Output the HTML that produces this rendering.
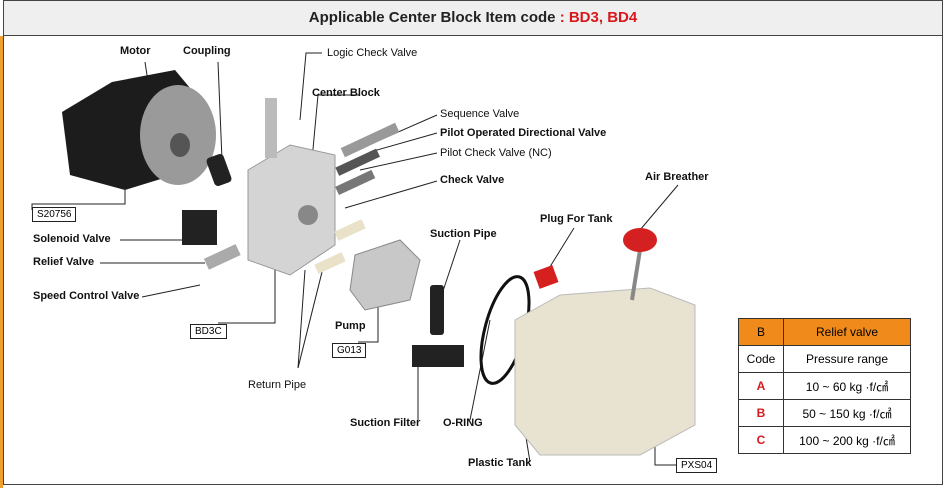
<!DOCTYPE html>
<html><head><meta charset="utf-8"><style>
body{margin:0;width:948px;height:488px;overflow:hidden;background:#fff;font-family:"Liberation Sans",sans-serif}
.hdr{position:absolute;left:3px;top:0;width:940px;height:36px;background:#efefef;border:1px solid #444;box-sizing:border-box;text-align:center;font:bold 15px/34px "Liberation Sans",sans-serif;color:#222}
.hdr span{color:#d9181e}
.frame{position:absolute;left:3px;top:35px;width:940px;height:450px;border:1px solid #444;box-sizing:border-box}
.l{position:absolute;font-size:11px;color:#111;white-space:nowrap}
.b{font-weight:bold}
.box{position:absolute;border:1px solid #222;font-size:10px;padding:0 4px;line-height:13px;background:#fff}
table{position:absolute;left:738px;top:318px;border-collapse:collapse;font-size:12px}
td{border:1px solid #333;text-align:center;height:26px;padding:0}
</style></head><body>
<div style="position:absolute;left:0;top:36px;width:3px;height:452px;background:#f0a030"></div>
<div class="hdr">Applicable Center Block Item code <span>: BD3, BD4</span></div>
<div class="frame"></div>
<svg width="948" height="488" style="position:absolute;left:0;top:0">
<g fill="none" stroke="#222" stroke-width="1">
<polyline points="145,62 150,95"/><polyline points="218,62 222,160"/>
<polyline points="322,53 306,53 300,120"/>
<polyline points="360,95 318,95 312,160"/>
<polyline points="437,115 380,140"/><polyline points="437,133 370,152"/>
<polyline points="437,153 360,170"/><polyline points="437,181 345,208"/>
<polyline points="120,240 190,240"/><polyline points="100,263 205,263"/>
<polyline points="142,297 200,285"/>
<polyline points="32,210 32,204 125,204 125,190"/>
<polyline points="218,323 275,323 275,270"/>
<polyline points="298,368 325,260"/><polyline points="298,368 305,270"/>
<polyline points="358,342 378,342 378,300"/>
<polyline points="460,240 440,300"/>
<polyline points="418,420 418,360"/><polyline points="470,420 490,320"/>
<polyline points="530,462 520,400"/>
<polyline points="574,228 548,270"/><polyline points="678,185 640,230"/>
<polyline points="676,465 655,465 655,415"/>
</g>
<path d="M62,112 L112,82 L175,70 L200,100 L190,170 L125,190 L70,175 Z" fill="#1c1c1c"/>
<ellipse cx="178" cy="135" rx="38" ry="50" fill="#9a9a9a"/>
<ellipse cx="180" cy="145" rx="10" ry="12" fill="#555"/>
<rect x="210" y="155" width="18" height="30" rx="4" fill="#222" transform="rotate(-20 219 170)"/>
<path d="M248,170 L290,145 L335,155 L335,245 L290,275 L248,260 Z" fill="#d4d4d4" stroke="#999"/>
<circle cx="308" cy="215" r="10" fill="#888"/>
<rect x="265" y="98" width="12" height="60" fill="#bbb"/>
<rect x="182" y="210" width="35" height="35" fill="#222"/>
<rect x="205" y="252" width="35" height="12" fill="#aaa" transform="rotate(-25 220 258)"/>
<rect x="340" y="135" width="60" height="10" fill="#999" transform="rotate(-25 370 140)"/>
<rect x="335" y="158" width="45" height="9" fill="#555" transform="rotate(-25 357 162)"/>
<rect x="335" y="178" width="40" height="9" fill="#777" transform="rotate(-25 355 182)"/>
<rect x="335" y="225" width="30" height="10" fill="#e9e2c8" transform="rotate(-25 350 230)"/>
<rect x="315" y="258" width="30" height="10" fill="#e9e2c8" transform="rotate(-25 330 263)"/>
<path d="M355,255 L400,240 L420,260 L410,300 L365,310 L350,290 Z" fill="#c8c8c8" stroke="#888"/>
<rect x="430" y="285" width="14" height="50" fill="#222" rx="3"/>
<rect x="412" y="345" width="52" height="22" fill="#222"/>
<ellipse cx="505" cy="330" rx="20" ry="55" fill="none" stroke="#111" stroke-width="3" transform="rotate(15 505 330)"/>
<path d="M515,320 L560,295 L650,288 L695,305 L695,425 L640,455 L540,455 L515,425 Z" fill="#e8e2d0" stroke="#bbb"/>
<rect x="536" y="268" width="20" height="18" fill="#d62020" transform="rotate(-20 546 277)"/>
<line x1="640" y1="250" x2="632" y2="300" stroke="#888" stroke-width="4"/>
<ellipse cx="640" cy="240" rx="17" ry="12" fill="#d42020"/>
</svg>
<div class="l b" style="left:120px;top:45px">Motor</div>
<div class="l b" style="left:183px;top:45px">Coupling</div>
<div class="l" style="left:327px;top:47px">Logic Check Valve</div>
<div class="l b" style="left:312px;top:87px">Center Block</div>
<div class="l" style="left:440px;top:108px">Sequence Valve</div>
<div class="l b" style="left:440px;top:127px">Pilot Operated Directional Valve</div>
<div class="l" style="left:440px;top:147px">Pilot Check Valve (NC)</div>
<div class="l b" style="left:440px;top:174px">Check Valve</div>
<div class="l b" style="left:645px;top:171px">Air Breather</div>
<div class="l b" style="left:540px;top:213px">Plug For Tank</div>
<div class="l b" style="left:430px;top:228px">Suction Pipe</div>
<div class="l b" style="left:33px;top:233px">Solenoid Valve</div>
<div class="l b" style="left:33px;top:256px">Relief Valve</div>
<div class="l b" style="left:33px;top:290px">Speed Control Valve</div>
<div class="l b" style="left:335px;top:320px">Pump</div>
<div class="l" style="left:248px;top:379px">Return Pipe</div>
<div class="l b" style="left:350px;top:417px">Suction Filter</div>
<div class="l b" style="left:443px;top:417px">O-RING</div>
<div class="l b" style="left:468px;top:457px">Plastic Tank</div>
<div class="box" style="left:32px;top:207px">S20756</div>
<div class="box" style="left:190px;top:324px">BD3C</div>
<div class="box" style="left:332px;top:343px">G013</div>
<div class="box" style="left:676px;top:458px">PXS04</div>
<table>
<tr style="background:#f08a1a"><td style="width:44px">B</td><td style="width:126px">Relief valve</td></tr>
<tr><td>Code</td><td>Pressure range</td></tr>
<tr><td style="color:#d9181e;font-weight:bold">A</td><td>10 ~ 60 kg ·f/㎠</td></tr>
<tr><td style="color:#d9181e;font-weight:bold">B</td><td>50 ~ 150 kg ·f/㎠</td></tr>
<tr><td style="color:#d9181e;font-weight:bold">C</td><td>100 ~ 200 kg ·f/㎠</td></tr>
</table>
</body></html>
